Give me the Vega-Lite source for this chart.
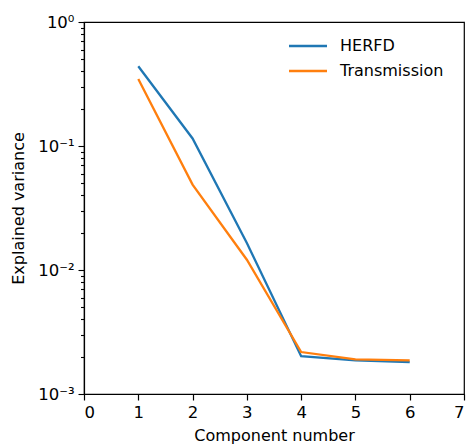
{
  "$schema": "https://vega.github.io/schema/vega-lite/v6.json",
  "width": 380,
  "height": 372,
  "autosize": "none",
  "padding": {"left": 84, "top": 22, "right": 5, "bottom": 50},
  "background": "white",
  "config": {
    "font": "DejaVu Sans",
    "view": {"stroke": "black", "strokeWidth": 1.2},
    "axis": {"grid": false, "domainColor": "black", "domainWidth": 1.2, "tickColor": "black", "labelColor": "black", "titleColor": "black", "labelFontSize": 16.5, "titleFontSize": 16, "titleFontWeight": "normal", "labelFont": "DejaVu Sans", "titleFont": "DejaVu Sans"}
  },
  "data": {
    "values": [
      {"component": 1, "variance": 0.44, "series": "HERFD"},
      {"component": 2, "variance": 0.115, "series": "HERFD"},
      {"component": 3, "variance": 0.0165, "series": "HERFD"},
      {"component": 4, "variance": 0.00202, "series": "HERFD"},
      {"component": 5, "variance": 0.00187, "series": "HERFD"},
      {"component": 6, "variance": 0.00181, "series": "HERFD"},
      {"component": 1, "variance": 0.347, "series": "Transmission"},
      {"component": 2, "variance": 0.0488, "series": "Transmission"},
      {"component": 3, "variance": 0.0121, "series": "Transmission"},
      {"component": 4, "variance": 0.00218, "series": "Transmission"},
      {"component": 5, "variance": 0.0019, "series": "Transmission"},
      {"component": 6, "variance": 0.00187, "series": "Transmission"}
    ]
  },
  "mark": {"type": "line", "strokeWidth": 2.3, "clip": true},
  "encoding": {
    "x": {
      "field": "component", "type": "quantitative",
      "scale": {"domain": [0, 7], "nice": false, "zero": false},
      "axis": {"title": "Component number", "values": [0,1,2,3,4,5,6,7], "format": "d", "tickSize": 6, "tickWidth": 1.2, "labelPadding": 4, "titleY": 41, "titleBaseline": "middle"}
    },
    "y": {
      "field": "variance", "type": "quantitative",
      "scale": {"type": "log", "domain": [0.001, 1], "nice": false},
      "axis": {
        "title": "Explained variance",
        "values": [0.001,0.002,0.003,0.004,0.005,0.006,0.007,0.008,0.009,0.01,0.02,0.03,0.04,0.05,0.06,0.07,0.08,0.09,0.1,0.2,0.3,0.4,0.5,0.6,0.7,0.8,0.9,1],
        "labelExpr": "datum.value == 1 ? '10⁰' : datum.value == 0.1 ? '10⁻¹' : datum.value == 0.01 ? '10⁻²' : datum.value == 0.001 ? '10⁻³' : ''",
        "tickSize": {"condition": {"test": "datum.value == 1 || datum.value == 0.1 || datum.value == 0.01 || datum.value == 0.001", "value": 6}, "value": 3.5},
        "tickWidth": 1.1,
        "labelPadding": 4,
        "labelOverlap": false,
        "titleX": -66,
        "titleBaseline": "middle"
      }
    },
    "color": {
      "field": "series", "type": "nominal",
      "scale": {"domain": ["HERFD", "Transmission"], "range": ["#1f77b4", "#ff7f0e"]},
      "legend": {
        "title": null,
        "orient": "none",
        "legendX": 213,
        "legendY": 13,
        "symbolType": "M-2,0H2",
        "symbolSize": 361,
        "symbolStrokeWidth": 2.5,
        "labelFontSize": 16,
        "labelFont": "DejaVu Sans",
        "labelColor": "black",
        "labelOffset": 21,
        "rowPadding": 6
      }
    }
  }
}
